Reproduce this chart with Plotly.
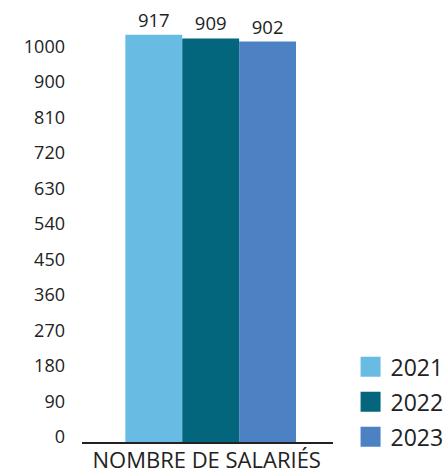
import plotly.graph_objects as go

categories = ["NOMBRE DE SALARIÉS"]
years = ["2021", "2022", "2023"]
values = [917, 909, 902]
colors = ["#68BCE3", "#03667D", "#4C81C3"]
tick_positions = [0, 80, 160, 240, 320, 400, 480, 560, 640, 720, 800, 880]
tick_labels = ["0", "90", "180", "270", "360", "450", "540", "630", "720", "810", "900", "1000"]

FONT = "Open Sans"

fig = go.Figure()
for yr, v, c in zip(years, values, colors):
    fig.add_trace(go.Bar(
        x=categories, y=[v], name=yr, marker=dict(color=c, line=dict(width=0)),
        text=[str(v)], textposition="outside", cliponaxis=False,
        textfont=dict(family=FONT, size=18.5, color="#222222"),
        showlegend=False,
    ))
for yr, c in zip(years, colors):
    fig.add_trace(go.Scatter(
        x=[None], y=[None], mode="markers", name=yr, legendgroup=yr,
        marker=dict(symbol="square", size=16, color=c, line=dict(color=c, width=4)),
    ))

fig.update_layout(
    width=445, height=475,
    margin=dict(l=82, r=112, t=10, b=33, autoexpand=False),
    paper_bgcolor="white", plot_bgcolor="white",
    barmode="group", bargap=0.32, bargroupgap=0,
    font=dict(family=FONT, color="#222222"),
    legend=dict(
        x=1.07, xanchor="left", y=-0.038, yanchor="bottom",
        font=dict(family=FONT, size=23, color="#222222"),
        itemsizing="trace", bgcolor="rgba(0,0,0,0)",
        tracegroupgap=2,
    ),
    xaxis=dict(
        type="category", range=[-0.5127, 0.4873],
        showline=True, linecolor="#222222", linewidth=1.5,
        showgrid=False, ticks="", zeroline=False, automargin=False,
        ticklabelshift=-4, ticklabelstandoff=-2,
        tickfont=dict(family=FONT, size=22, color="#222222"),
    ),
    yaxis=dict(
        range=[0, 973], showline=False, showgrid=False, zeroline=False,
        tickvals=tick_positions, ticktext=tick_labels, ticks="",
        ticklabelshift=-5, ticklabelstandoff=16, automargin=False,
        tickfont=dict(family=FONT, size=18, color="#222222"),
    ),
)

fig.write_html("out.html", config={"displayModeBar": False},
               post_script="document.body.style.margin='0';")
